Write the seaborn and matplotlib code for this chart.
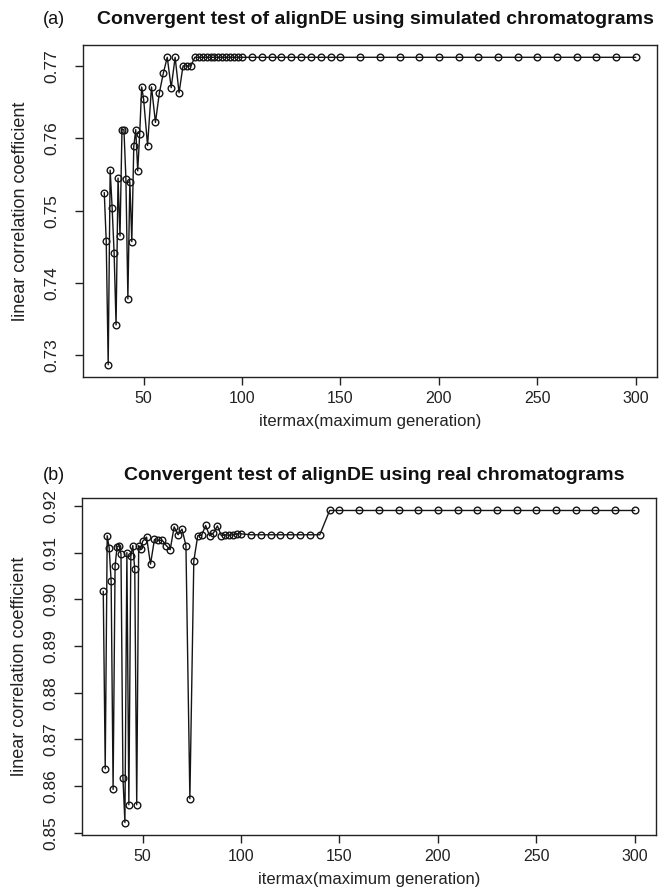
import matplotlib
matplotlib.use("Agg")
import matplotlib.pyplot as plt
import seaborn as sns
import pandas as pd
import numpy as np

# ---- data ----
itermax = [30, 31, 32, 33, 34, 35, 36, 37, 38, 39, 40, 41, 42, 43, 44, 45, 46, 47, 48, 49, 50,
           52, 54, 56, 58, 60, 62, 64, 66, 68, 70, 72, 74, 76, 78, 80, 82, 84, 86, 88, 90,
           92, 94, 96, 98, 100,
           105, 110, 115, 120, 125, 130, 135, 140, 145, 150,
           160, 170, 180, 190, 200, 210, 220, 230, 240, 250, 260, 270, 280, 290, 300]

sim_corr = [0.7525, 0.7458, 0.7287, 0.7556, 0.7504, 0.7442, 0.7342, 0.7545, 0.7465, 0.7612,
            0.7612, 0.7544, 0.7378, 0.7540, 0.7457, 0.7589, 0.7612, 0.7555, 0.7606, 0.7671,
            0.7654,
            0.7590, 0.7671, 0.7622, 0.7663, 0.7690, 0.7712, 0.7670, 0.7712, 0.7663, 0.7700,
            0.7700, 0.7700, 0.7712, 0.7712, 0.7712, 0.7712, 0.7712, 0.7712, 0.7712, 0.7712,
            0.7712, 0.7712, 0.7712, 0.7712, 0.7712,
            0.7712, 0.7712, 0.7712, 0.7712, 0.7712, 0.7712, 0.7712, 0.7712, 0.7712, 0.7712,
            0.7712, 0.7712, 0.7712, 0.7712, 0.7712, 0.7712, 0.7712, 0.7712, 0.7712, 0.7712,
            0.7712, 0.7712, 0.7712, 0.7712, 0.7712]

real_corr = [0.9017, 0.8637, 0.9136, 0.9110, 0.9039, 0.8593, 0.9071, 0.9112, 0.9115, 0.9097,
             0.8618, 0.8522, 0.9100, 0.8560, 0.9092, 0.9115, 0.9064, 0.8560, 0.9115, 0.9107,
             0.9124,
             0.9133, 0.9075, 0.9128, 0.9126, 0.9126, 0.9115, 0.9106, 0.9155, 0.9138, 0.9150,
             0.9115, 0.8573, 0.9082, 0.9136, 0.9137, 0.9158, 0.9136, 0.9142, 0.9157, 0.9136,
             0.9138, 0.9137, 0.9138, 0.9140, 0.9140,
             0.9138, 0.9138, 0.9138, 0.9138, 0.9138, 0.9138, 0.9138, 0.9138, 0.9190, 0.9190,
             0.9190, 0.9190, 0.9190, 0.9190, 0.9190, 0.9190, 0.9190, 0.9190, 0.9190, 0.9190,
             0.9190, 0.9190, 0.9190, 0.9190, 0.9190]

titles = ["Convergent test of alignDE using simulated chromatograms",
          "Convergent test of alignDE using real chromatograms"]
panel_tags = ["(a)", "(b)"]
yticks_a = [0.73, 0.74, 0.75, 0.76, 0.77]
yticks_b = [0.85, 0.86, 0.87, 0.88, 0.89, 0.90, 0.91, 0.92]
xticks = [50, 100, 150, 200, 250, 300]
xlabel = "itermax(maximum generation)"
ylabel = "linear correlation coefficient"

# ---- style ----
sns.set_style("white")
plt.rcParams['font.family'] = ['Liberation Sans', 'DejaVu Sans']

W, H = 664, 893
fig = plt.figure(figsize=(W / 100, H / 100), dpi=100)

def px_axes(left, top, right, bottom):
    return fig.add_axes([left / W, 1 - bottom / H, (right - left) / W, (bottom - top) / H])

panels = [
    dict(box=(83, 45, 657, 377), y=sim_corr, yt=yticks_a, title_y=19),
    dict(box=(82, 498, 656, 835), y=real_corr, yt=yticks_b, title_y=475),
]

for i, p in enumerate(panels):
    ax = px_axes(*p["box"])
    df = pd.DataFrame({"itermax": itermax, "corr": p["y"]})
    sns.lineplot(data=df, x="itermax", y="corr", ax=ax, color="#151515",
                 linewidth=1.0, marker="o", markersize=4.8, markerfacecolor="none",
                 markeredgecolor="#151515", markeredgewidth=1.0,
                 estimator=None, sort=False)
    xmin, xmax = min(itermax), max(itermax)
    xr = (xmax - xmin) * 0.04
    ax.set_xlim(xmin - xr, xmax + xr)
    ymin, ymax = min(p["y"]), max(p["y"])
    yr = (ymax - ymin) * 0.04
    ax.set_ylim(ymin - yr, ymax + yr)
    ax.set_xticks(xticks)
    ax.set_xticklabels([str(v) for v in xticks], fontsize=11.5)
    ax.set_yticks(p["yt"])
    ax.set_yticklabels([f"{v:.2f}" for v in p["yt"]], fontsize=12.5,
                       rotation=90, va="center")
    ax.tick_params(axis="x", direction="out", length=6, width=1.0,
                   color="#222222", labelcolor="#222222", pad=4, bottom=True)
    ax.tick_params(axis="y", direction="out", length=6, width=1.0,
                   color="#222222", labelcolor="#222222", pad=11, left=True)
    ax.set_xlabel(xlabel, fontsize=12, color="#222222", labelpad=6)
    ax.set_ylabel(ylabel, fontsize=13, color="#222222", labelpad=11)
    for s in ax.spines.values():
        s.set_visible(True)
        s.set_color("#222222")
        s.set_linewidth(1.0)
    cx = (p["box"][0] + p["box"][2]) / 2 + 5
    fig.text(cx / W, 1 - p["title_y"] / H, titles[i], ha="center", va="center",
             fontsize=14, fontweight="bold", color="#111111")
    fig.text(54 / W, 1 - p["title_y"] / H, panel_tags[i], ha="center", va="center",
             fontsize=13, color="#111111")

fig.savefig("out.png", dpi=100)
